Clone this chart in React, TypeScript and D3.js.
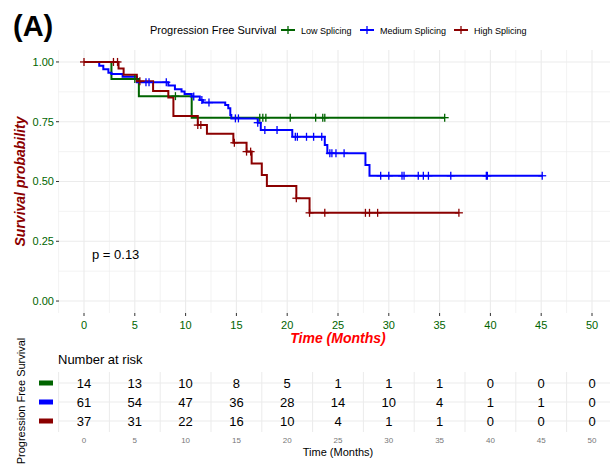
import React from "react";
import * as d3 from "d3";

// Kaplan-Meier steps: [time, survival]
const lowSteps: [number, number][] = [[0, 1], [2.7, 0.929], [5.4, 0.857], [10.6, 0.767], [35.5, 0.767]];
const medSteps: [number, number][] = [
  [0, 1], [1.5, 0.984], [1.9, 0.969], [2.4, 0.955], [2.7, 0.95], [3.8, 0.938], [5.2, 0.915],
  [8.3, 0.902], [8.95, 0.886], [9.6, 0.876], [9.9, 0.866], [10.6, 0.855], [11.4, 0.841],
  [11.7, 0.83], [13.9, 0.82], [14.2, 0.806], [14.4, 0.778], [14.5, 0.764], [17.1, 0.746],
  [17.4, 0.715], [20.5, 0.687], [23.7, 0.653], [23.95, 0.618], [27.7, 0.569], [28.1, 0.524],
  [45.1, 0.524],
];
const highSteps: [number, number][] = [
  [0, 1], [3.4, 0.973], [3.9, 0.946], [5.2, 0.919], [6.8, 0.878], [8.3, 0.851], [8.8, 0.774],
  [11.2, 0.736], [12.1, 0.7], [14.7, 0.662], [16.0, 0.625], [16.5, 0.575], [17.5, 0.527],
  [18.0, 0.481], [20.9, 0.43], [22.2, 0.369], [36.9, 0.369],
];

const lowCensor = [5.0, 9.0, 17.3, 17.6, 17.9, 20.3, 22.8, 23.5, 23.7, 35.5];
const medCensor = [
  6.1, 6.4, 8.1, 10.8, 11.6, 12.3, 14.9, 15.2, 17.1, 17.8, 19.0, 20.8, 21.0, 21.9, 22.6, 23.4,
  24.2, 24.4, 24.8, 25.6, 29.2, 30.0, 31.3, 31.5, 32.9, 33.4, 33.9, 36.1, 39.6, 39.7, 45.1,
];
const highCensor = [0, 2.9, 3.3, 5.5, 11.2, 11.5, 14.8, 16.0, 16.4, 20.9, 22.2, 23.7, 27.7, 28.1, 28.9, 36.9];

const groups = ["Low Splicing", "Medium Splicing", "High Splicing"];
const colors = ["#006400", "#0000ff", "#8b0000"];
const timeTicks = [0, 5, 10, 15, 20, 25, 30, 35, 40, 45, 50];
const survTicks = [0, 0.25, 0.5, 0.75, 1];
const riskLow = [14, 13, 10, 8, 5, 1, 1, 1, 0, 0, 0];
const riskMed = [61, 54, 47, 36, 28, 14, 10, 4, 1, 1, 0];
const riskHigh = [37, 31, 22, 16, 10, 4, 1, 1, 0, 0, 0];

const font = "Liberation Sans, Arial, sans-serif";
const grid = "#ebebeb";

export default function App() {
  const x = d3.scaleLinear().domain([-2.5, 52.5]).range([58.6, 617.4]);
  const y = d3.scaleLinear().domain([-0.05, 1.05]).range([313, 50]);
  const rowY = d3.scalePoint<string>().domain(groups).range([383, 421]);

  const steps = [lowSteps, medSteps, highSteps];
  const censors = [lowCensor, medCensor, highCensor];
  const risks = [riskLow, riskMed, riskHigh];

  const line = d3
    .line<[number, number]>()
    .x((d) => x(d[0]))
    .y((d) => y(d[1]))
    .curve(d3.curveStepAfter);

  const survAt = (s: [number, number][], t: number) => {
    let v = 1;
    for (const p of s) if (p[0] <= t) v = p[1];
    return v;
  };

  const minorX = d3.range(-2.5, 53, 5);
  const minorY = d3.range(-0.125, 1.1, 0.25).filter((v) => v > -0.05);

  return (
    <svg width={610} height={465} style={{ position: "absolute", left: 0, top: 0, fontFamily: font }}>
      <rect width={610} height={465} fill="white" />
      {/* panel grid */}
      <g>
        {minorX.concat(timeTicks).map((t, i) => (
          <line key={"vx" + i} x1={x(t)} x2={x(t)} y1={50} y2={313} stroke={grid} strokeWidth={i < minorX.length ? 0.6 : 1.1} />
        ))}
        {minorY.concat(survTicks).map((v, i) => (
          <line key={"hy" + i} x1={58.6} x2={610} y1={y(v)} y2={y(v)} stroke={grid} strokeWidth={i < minorY.length ? 0.6 : 1.1} />
        ))}
      </g>
      {/* axes */}
      {survTicks.map((v) => (
        <g key={"yt" + v}>
          <line x1={56} x2={59} y1={y(v)} y2={y(v)} stroke="#333" strokeWidth={1} />
          <text x={54} y={y(v)} dy="0.35em" textAnchor="end" fontSize={11} fill="#006400">
            {d3.format(".2f")(v)}
          </text>
        </g>
      ))}
      {timeTicks.map((t) => (
        <g key={"xt" + t}>
          <line x1={x(t)} x2={x(t)} y1={313} y2={316} stroke="#333" strokeWidth={1} />
          <text x={x(t)} y={329} textAnchor="middle" fontSize={11} fill="#006400">
            {t}
          </text>
        </g>
      ))}
      <text x={x(25)} y={343} textAnchor="middle" fontSize={14} fontWeight="bold" fontStyle="italic" fill="#ff0000">
        Time (Months)
      </text>
      <text transform={`translate(25,${y(0.5)}) rotate(-90)`} textAnchor="middle" fontSize={14} fontWeight="bold" fontStyle="italic" fill="#8b0000">
        Survival probability
      </text>

      {/* curves */}
      {steps.map((s, i) => (
        <path key={"c" + i} d={line(s) || ""} fill="none" stroke={colors[i]} strokeWidth={2} />
      ))}
      {censors.map((c, i) =>
        c.map((t, j) => {
          const cx = x(t);
          const cy = y(survAt(steps[i], t));
          return (
            <g key={"m" + i + "-" + j} stroke={colors[i]} strokeWidth={1.3}>
              <line x1={cx} x2={cx} y1={cy - 4} y2={cy + 4} />
              <line x1={cx - 4} x2={cx + 4} y1={cy} y2={cy} />
            </g>
          );
        })
      )}
      <text x={92} y={259} fontSize={13} fill="#000">
        p = 0.13
      </text>

      {/* title + legend */}
      <text x={13} y={36} fontSize={29} fontWeight="bold" fill="#000">
        (A)
      </text>
      <text x={150} y={34} fontSize={11} fill="#000">
        Progression Free Survival
      </text>
      {groups.map((g, i) => {
        const kx = [281, 360, 454][i];
        return (
          <g key={"lg" + i}>
            <line x1={kx} x2={kx + 14} y1={30} y2={30} stroke={colors[i]} strokeWidth={2} />
            <line x1={kx + 7} x2={kx + 7} y1={26} y2={34} stroke={colors[i]} strokeWidth={1.3} />
            <text x={kx + 20} y={33.5} fontSize={9} fill="#000">
              {g}
            </text>
          </g>
        );
      })}

      {/* risk table */}
      <text x={58} y={364} fontSize={13} fill="#000">
        Number at risk
      </text>
      <g>
        {minorX.map((t, i) => (
          <line key={"tv" + i} x1={x(t)} x2={x(t)} y1={372} y2={432} stroke={grid} strokeWidth={1} />
        ))}
        {groups.map((g) => (
          <line key={"th" + g} x1={58.6} x2={610} y1={rowY(g)!} y2={rowY(g)!} stroke={grid} strokeWidth={1} />
        ))}
      </g>
      {groups.map((g, i) => (
        <g key={"row" + g}>
          <rect x={39} y={rowY(g)! - 2.5} width={14} height={5} fill={colors[i]} />
          {risks[i].map((n, j) => (
            <text key={j} x={x(timeTicks[j])} y={rowY(g)!} dy="0.36em" textAnchor="middle" fontSize={13} fill="#000">
              {n}
            </text>
          ))}
        </g>
      ))}
      {timeTicks.map((t) => (
        <text key={"bt" + t} x={x(t)} y={443} textAnchor="middle" fontSize={8} fill="#777">
          {t}
        </text>
      ))}
      <text x={x(25)} y={456} textAnchor="middle" fontSize={11} fill="#000">
        Time (Months)
      </text>
      <text transform="translate(25,401) rotate(-90)" textAnchor="middle" fontSize={11} fill="#000">
        Progression Free Survival
      </text>
    </svg>
  );
}
